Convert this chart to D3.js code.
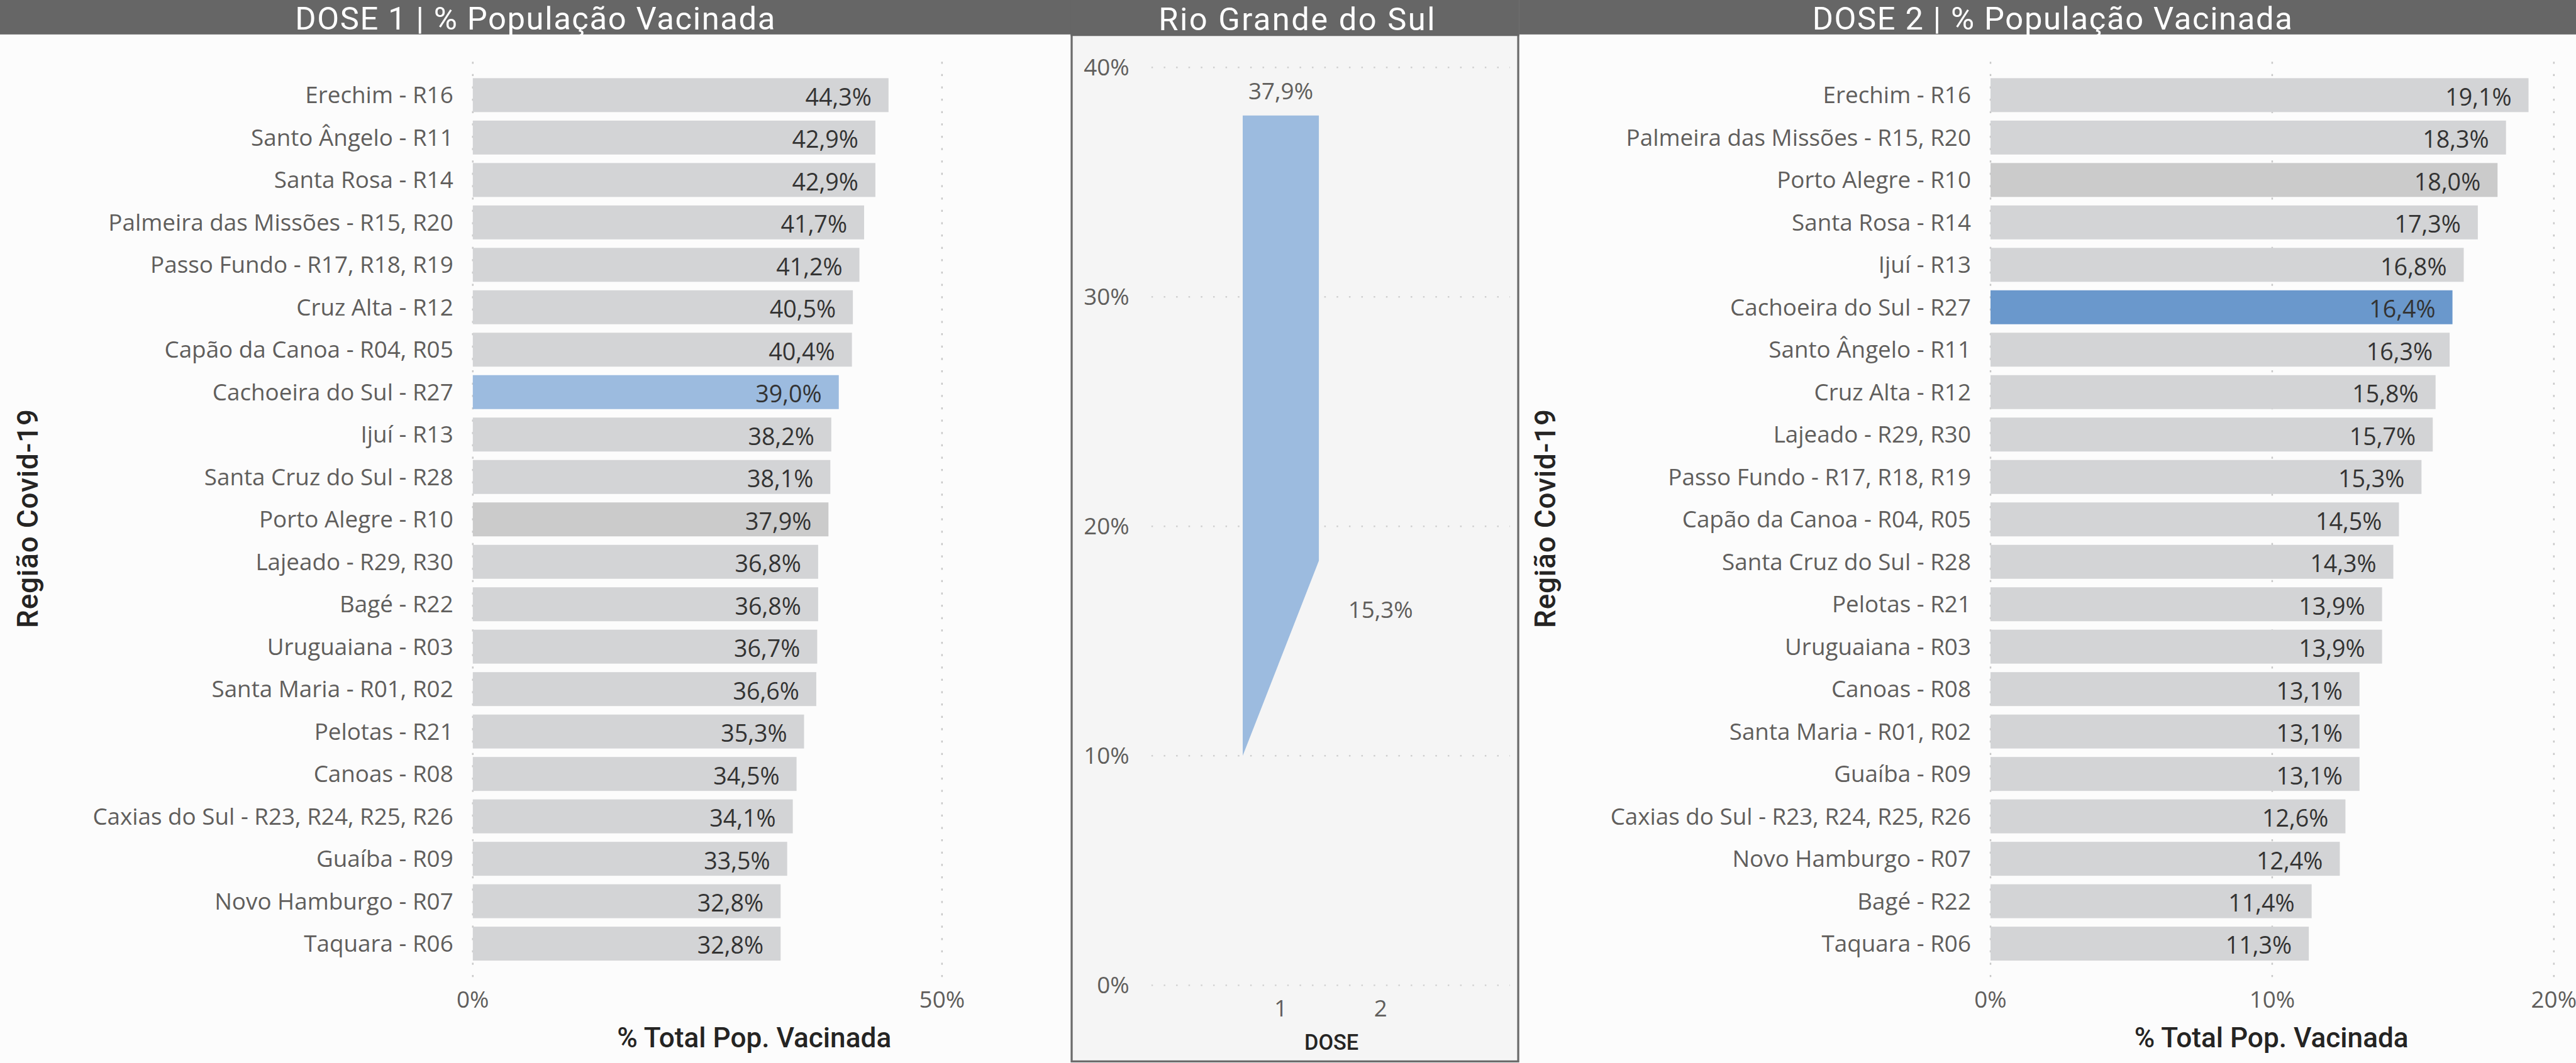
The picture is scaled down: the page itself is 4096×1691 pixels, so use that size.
<!DOCTYPE html>
<html><head><meta charset="utf-8">
<script src="https://cdn.jsdelivr.net/npm/d3@7"></script>
<style>
html,body{margin:0;padding:0;background:#fcfcfc;}
svg{display:block;}
</style></head>
<body>
<script>
// ---------- DATA ----------
const dose1Regions = ["Erechim - R16","Santo Ângelo - R11","Santa Rosa - R14","Palmeira das Missões - R15, R20","Passo Fundo - R17, R18, R19","Cruz Alta - R12","Capão da Canoa - R04, R05","Cachoeira do Sul - R27","Ijuí - R13","Santa Cruz do Sul - R28","Porto Alegre - R10","Lajeado - R29, R30","Bagé - R22","Uruguaiana - R03","Santa Maria - R01, R02","Pelotas - R21","Canoas - R08","Caxias do Sul - R23, R24, R25, R26","Guaíba - R09","Novo Hamburgo - R07","Taquara - R06"];
const dose1Values = [44.3,42.9,42.9,41.7,41.2,40.5,40.4,39.0,38.2,38.1,37.9,36.8,36.8,36.7,36.6,35.3,34.5,34.1,33.5,32.8,32.8];
const dose2Regions = ["Erechim - R16","Palmeira das Missões - R15, R20","Porto Alegre - R10","Santa Rosa - R14","Ijuí - R13","Cachoeira do Sul - R27","Santo Ângelo - R11","Cruz Alta - R12","Lajeado - R29, R30","Passo Fundo - R17, R18, R19","Capão da Canoa - R04, R05","Santa Cruz do Sul - R28","Pelotas - R21","Uruguaiana - R03","Canoas - R08","Santa Maria - R01, R02","Guaíba - R09","Caxias do Sul - R23, R24, R25, R26","Novo Hamburgo - R07","Bagé - R22","Taquara - R06"];
const dose2Values = [19.1,18.3,18.0,17.3,16.8,16.4,16.3,15.8,15.7,15.3,14.5,14.3,13.9,13.9,13.1,13.1,13.1,12.6,12.4,11.4,11.3];
const dose1Ticks = [0,50];
const dose2Ticks = [0,10,20];
const rsDoses = ["1","2"];
const rsValues = [37.9,15.3];
const rsShapeBottom = [10,18.5];   // lower edge of the drawn shape (left, right)
const rsTicks = [0,10,20,30,40];
const highlightRegion = "Cachoeira do Sul - R27";
const selectedRegion = "Porto Alegre - R10";
const titles = ["DOSE 1 | % População Vacinada","Rio Grande do Sul","DOSE 2 | % População Vacinada"];
const xTitle = "% Total Pop. Vacinada";
const yTitle = "Região Covid-19";

// ---------- SETUP ----------
const W = 4096, H = 1691, S = 4096/5007;
const fmt = d3.formatLocale({decimal:",",thousands:".",grouping:[3],currency:["R$",""]});
const pct1 = v => fmt.format(".1f")(v) + "%";
const pct0 = v => fmt.format(".0f")(v) + "%";
const labelFont = "'Segoe UI','Open Sans',sans-serif";
const titleFont = "'DIN','Roboto',sans-serif";
const svg = d3.select("body").append("svg").attr("width",W).attr("height",H);
svg.append("rect").attr("width",W).attr("height",H).attr("fill","#fcfcfc");
const g = svg.append("g").attr("transform",`scale(${S})`);

// ---------- CENTER PANEL BACKGROUND ----------
g.append("rect").attr("x",2083).attr("y",0).attr("width",868).attr("height",2064)
  .attr("fill","#f5f5f5").attr("stroke","#6b6b6b").attr("stroke-width",4);

// ---------- HEADERS ----------
const headers = [
  {x0:0,x1:2083,h:67,cx:1041,by:58,size:62,ls:2,text:titles[0]},
  {x0:2081,x1:2953,h:70,cx:2522,by:59,size:62,ls:3,text:titles[1]},
  {x0:2953,x1:5007,h:67,cx:3990,by:58,size:62,ls:2,text:titles[2]}
];
headers.forEach(d=>{
  g.append("rect").attr("x",d.x0).attr("y",0).attr("width",d.x1-d.x0).attr("height",d.h).attr("fill","#666666");
  g.append("text").attr("x",d.cx).attr("y",d.by).attr("text-anchor","middle")
    .attr("font-family",titleFont).attr("font-size",d.size).attr("letter-spacing",d.ls)
    .attr("fill","#ffffff").text(d.text);
});

// ---------- BAR PANELS ----------
function barPanel(regions, values, ticks, x0, xUnit, labelRight, yTitleX, xTitleCx){
  const n = regions.length;
  const step = 82.5, po = 0.1;
  const r0 = 152 - po*step;
  const y = d3.scaleBand().domain(regions).range([r0, r0 + step*(n - 0.2 + 2*po)]).paddingInner(0.2).paddingOuter(po);
  const maxT = ticks[ticks.length-1];
  const x = d3.scaleLinear().domain([0,maxT]).range([x0, x0 + xUnit*maxT]);
  const p = g.append("g");
  // gridlines
  p.selectAll("line.grid").data(ticks).join("line")
    .attr("x1",d=>x(d)).attr("x2",d=>x(d)).attr("y1",120).attr("y2",1900)
    .attr("stroke","#c8c8c8").attr("stroke-width",3).attr("stroke-dasharray","4 20");
  // tick labels
  p.selectAll("text.tick").data(ticks).join("text")
    .attr("x",d=>x(d)).attr("y",1960).attr("text-anchor","middle")
    .attr("font-family",labelFont).attr("font-size",45).attr("fill","#605e5c").text(pct0);
  // bars
  const data = regions.map((r,i)=>({r, v: values[i]}));
  p.selectAll("rect.bar").data(data).join("rect")
    .attr("x",x(0)).attr("y",d=>y(d.r)).attr("width",d=>x(d.v)-x(0)).attr("height",y.bandwidth())
    .attr("fill",d=> d.r===highlightRegion ? (maxT===50 ? "#9cbbdf" : "#6a98cc") : (d.r===selectedRegion ? "#cbcbcb" : "#d3d4d6"));
  // category labels
  p.selectAll("text.cat").data(data).join("text")
    .attr("x",labelRight).attr("y",d=>y(d.r)+y.bandwidth()/2+16).attr("text-anchor","end")
    .attr("font-family",labelFont).attr("font-size",45).attr("fill","#605e5c").text(d=>d.r);
  // value labels
  p.selectAll("text.val").data(data).join("text")
    .attr("x",d=>x(d.v)-33).attr("y",d=>y(d.r)+y.bandwidth()/2+20).attr("text-anchor","end")
    .attr("font-family",labelFont).attr("font-size",46).attr("fill","#333333").text(d=>pct1(d.v));
  // axis titles
  p.append("text").attr("transform",`translate(${yTitleX},1008) rotate(-90)`).attr("text-anchor","middle")
    .attr("font-family",titleFont).attr("font-weight",500).attr("font-size",56).attr("letter-spacing",1)
    .attr("fill","#252423").text(yTitle);
  p.append("text").attr("x",xTitleCx).attr("y",2036).attr("text-anchor","middle")
    .attr("font-family",titleFont).attr("font-weight",500).attr("font-size",54)
    .attr("fill","#252423").text(xTitle);
}
barPanel(dose1Regions, dose1Values, dose1Ticks, 919, 18.24, 881, 73, 1466);
barPanel(dose2Regions, dose2Values, dose2Ticks, 3869, 54.75, 3831, 3023, 4415);

// ---------- CENTER CHART ----------
const cy = d3.scaleLinear().domain([0,40]).range([1916,131]);
const cx = d3.scaleBand().domain(rsDoses).range([2238,2935]).paddingInner(0.237).paddingOuter(0.915);
const c = g.append("g");
c.selectAll("line.grid").data(rsTicks).join("line")
  .attr("x1",2238).attr("x2",2935).attr("y1",d=>cy(d)).attr("y2",d=>cy(d))
  .attr("stroke","#cfcfcf").attr("stroke-width",3).attr("stroke-dasharray","3 21");
c.selectAll("text.tick").data(rsTicks).join("text")
  .attr("x",2195).attr("y",d=>cy(d)+16).attr("text-anchor","end")
  .attr("font-family",labelFont).attr("font-size",45).attr("fill","#605e5c").text(pct0);
// shape drawn for dose 1
const bx0 = cx(rsDoses[0]), bx1 = cx(rsDoses[0]) + cx.bandwidth();
c.append("path")
  .attr("d", d3.line()([[bx0, cy(rsValues[0])],[bx1, cy(rsValues[0])],[bx1, cy(rsShapeBottom[1])],[bx0, cy(rsShapeBottom[0])]]) + "Z")
  .attr("fill","#9cbbdf");
// value labels
c.selectAll("text.val").data(rsDoses).join("text")
  .attr("x",d=>cx(d)+cx.bandwidth()/2).attr("y",(d,i)=>cy(rsValues[i])-32).attr("text-anchor","middle")
  .attr("font-family",labelFont).attr("font-size",45).attr("fill","#605e5c").text((d,i)=>pct1(rsValues[i]));
// x tick labels
c.selectAll("text.xt").data(rsDoses).join("text")
  .attr("x",d=>cx(d)+cx.bandwidth()/2).attr("y",1977).attr("text-anchor","middle")
  .attr("font-family",labelFont).attr("font-size",45).attr("fill","#605e5c").text(d=>d);
c.append("text").attr("x",2588).attr("y",2042).attr("text-anchor","middle")
  .attr("font-family",titleFont).attr("font-weight",500).attr("font-size",42).attr("fill","#252423").text("DOSE");
</script>
</body></html>
